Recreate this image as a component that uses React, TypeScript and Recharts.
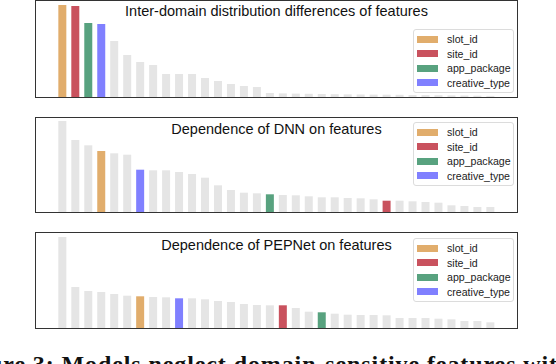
import { BarChart, Bar, XAxis, YAxis, Cell } from 'recharts'

// rank of each feature inside a panel (sorted by value)
const ranks = Array.from({ length: 34 }, (_, i) => `#${i + 1}`)

const interValues = [92, 91, 74, 73, 56, 42, 35, 32, 23, 23, 23, 19, 16, 13, 11, 10, 4, 3.6, 3.4, 3.2, 3, 2.8, 2.6, 2.5, 2.4, 2.3, 2.2, 2, 1.9, 1.8, 1.6, 1.5, 1.3, 1.1]
const dnnValues = [91, 72, 66.7, 61, 58.7, 57.3, 42.3, 41.7, 41.7, 40, 38, 34.3, 26.7, 22, 19.3, 18.7, 17.7, 17, 16.7, 15.7, 14.7, 14.7, 14, 13.7, 12.7, 11.3, 11.3, 10.7, 10, 9.3, 6.7, 6, 5, 5]
const pepValues = [91, 41, 37, 36, 34, 32.3, 31.7, 31, 30.7, 29.7, 29.7, 28.7, 27, 26, 24, 23, 22.7, 22.7, 20, 16.3, 15.7, 14.3, 13.3, 13, 13, 12.7, 10, 10, 10, 9.3, 8.7, 7, 7, 5.7]

const legendNames = ['slot_id', 'site_id', 'app_package', 'creative_type']
const interHighlight: Record<string, number> = { slot_id: 0, site_id: 1, app_package: 2, creative_type: 3 }
const dnnHighlight: Record<string, number> = { slot_id: 3, creative_type: 6, app_package: 16, site_id: 25 }
const pepHighlight: Record<string, number> = { slot_id: 6, creative_type: 9, site_id: 17, app_package: 20 }

const colors: Record<string, string> = {
  slot_id: '#E1AD6C',
  site_id: '#C9525E',
  app_package: '#58A27F',
  creative_type: '#8080FF',
}
const GREY = '#E5E5E5'
const FONT = '"Liberation Sans", Arial, Helvetica, sans-serif'

function FeatureLegend({ top }: { top: number }) {
  return (
    <div
      style={{
        position: 'absolute',
        left: 377,
        top,
        width: 101,
        boxSizing: 'border-box',
        background: 'rgba(255,255,255,0.85)',
        border: '1px solid #dcdcdc',
        borderRadius: 3,
        padding: '2px 0 2px 3px',
        fontFamily: FONT,
        fontSize: 10.6,
        color: '#222',
      }}
    >
      {legendNames.map((name) => (
        <div key={name} style={{ display: 'flex', alignItems: 'center', height: 14.5 }}>
          <span style={{ width: 21, height: 7, background: colors[name], marginRight: 9, display: 'inline-block' }} />
          <span>{name}</span>
        </div>
      ))}
    </div>
  )
}

interface PanelProps {
  top: number
  height: number
  title: string
  titleTop: number
  values: number[]
  highlight: Record<string, number>
  legendTop: number
}

function Panel({ top, height, title, titleTop, values, highlight, legendTop }: PanelProps) {
  const data = ranks.map((r, i) => ({ rank: r, value: values[i] }))
  const colorAt = (i: number) => {
    const hit = Object.keys(highlight).find((k) => highlight[k] === i)
    return hit ? colors[hit] : GREY
  }
  const inner = height - 2
  return (
    <div
      style={{
        position: 'absolute',
        left: 35,
        top,
        width: 483,
        height,
        boxSizing: 'border-box',
        border: '1px solid #333',
      }}
    >
      <BarChart width={481} height={inner} data={data} margin={{ top: 0, right: 0, bottom: 0, left: 0 }} barCategoryGap="18%">
        <XAxis dataKey="rank" hide padding={{ left: 20, right: 20 }} />
        <YAxis hide domain={[0, inner]} allowDataOverflow />
        <Bar dataKey="value" isAnimationActive={false}>
          {data.map((_, i) => (
            <Cell key={i} fill={colorAt(i)} />
          ))}
        </Bar>
      </BarChart>
      <div
        style={{
          position: 'absolute',
          left: 0,
          width: '100%',
          top: titleTop,
          textAlign: 'center',
          fontFamily: FONT,
          fontSize: 14.5,
          color: '#111',
          pointerEvents: 'none',
        }}
      >
        {title}
      </div>
      <FeatureLegend top={legendTop} />
    </div>
  )
}

export default function App() {
  return (
    <div style={{ position: 'absolute', left: 0, top: 0, width: 556, height: 364, overflow: 'hidden', background: '#fff' }}>
      <Panel top={0} height={98} title="Inter-domain distribution differences of features" titleTop={2} values={interValues} highlight={interHighlight} legendTop={28} />
      <Panel top={117} height={96} title="Dependence of DNN on features" titleTop={3} values={dnnValues} highlight={dnnHighlight} legendTop={4} />
      <Panel top={232} height={97} title="Dependence of PEPNet on features" titleTop={4} values={pepValues} highlight={pepHighlight} legendTop={5} />
      <div
        style={{
          position: 'absolute',
          left: -47,
          top: 352,
          whiteSpace: 'nowrap',
          fontFamily: '"Liberation Serif", "DejaVu Serif", serif',
          fontWeight: 'bold',
          fontSize: 24,
          letterSpacing: 0.9,
          lineHeight: '24px',
          color: '#111',
        }}
      >
        Figure 3: Models neglect domain-sensitive features with
      </div>
    </div>
  )
}
